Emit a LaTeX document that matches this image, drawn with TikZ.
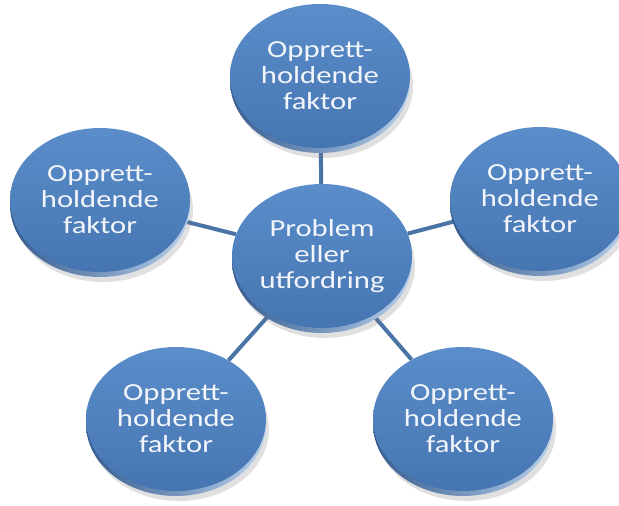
\documentclass[tikz,border=0pt]{standalone}
\usepackage{fontspec}
\setmainfont{Carlito}[FakeStretch=1.25]
\usetikzlibrary{shapes.geometric,shadows,backgrounds}

\definecolor{disctop}{HTML}{5A8DCA}
\definecolor{discbot}{HTML}{4676B2}
\definecolor{rimdark}{HTML}{355C8E}
\definecolor{rimlight}{HTML}{B9D0EC}
\definecolor{linkblue}{HTML}{4A74A6}
\definecolor{textwhite}{HTML}{F2F5FA}

\tikzset{
  disc/.style={shape=ellipse, minimum width=180pt, minimum height=144pt, inner sep=0pt,
    top color=disctop, bottom color=discbot, text=textwhite, align=center,
    font=\fontsize{24.5}{26}\selectfont,
    drop shadow={shadow xshift=3pt, shadow yshift=-10pt, opacity=0.22, fill=black!55},
    preaction={left color=rimdark, right color=rimlight, transform canvas={yshift=-5pt}}},
  link/.style={draw=linkblue, line width=4pt}
}

\begin{document}
\begin{tikzpicture}[x=1pt,y=-1pt]
	\useasboundingbox (0,0) rectangle (619,506);

	\node[disc] (prob)  at (322,256)     {Problem\\eller\\utfordring};
	\node[disc] (top)   at (320,76)      {Opprett-\\holdende\\faktor};
	\node[disc] (left)  at (100,200)     {Opprett-\\holdende\\faktor};
	\node[disc] (right) at (540,199)     {Opprett-\\holdende\\faktor};
	\node[disc] (botl)  at (176,419)     {Opprett-\\holdende\\faktor};
	\node[disc] (botr)  at (463,419)     {Opprett-\\holdende\\faktor};

	\begin{scope}[on background layer]
	\fill[white] (0,0) rectangle (619,506);
	\path[link] (prob) edge (top);
	\path[link] (prob) edge (left);
	\path[link] (prob) edge (right);
	\path[link] (prob) edge (botl);
	\path[link] (prob) edge (botr);
	\end{scope}
\end{tikzpicture}
\end{document}
